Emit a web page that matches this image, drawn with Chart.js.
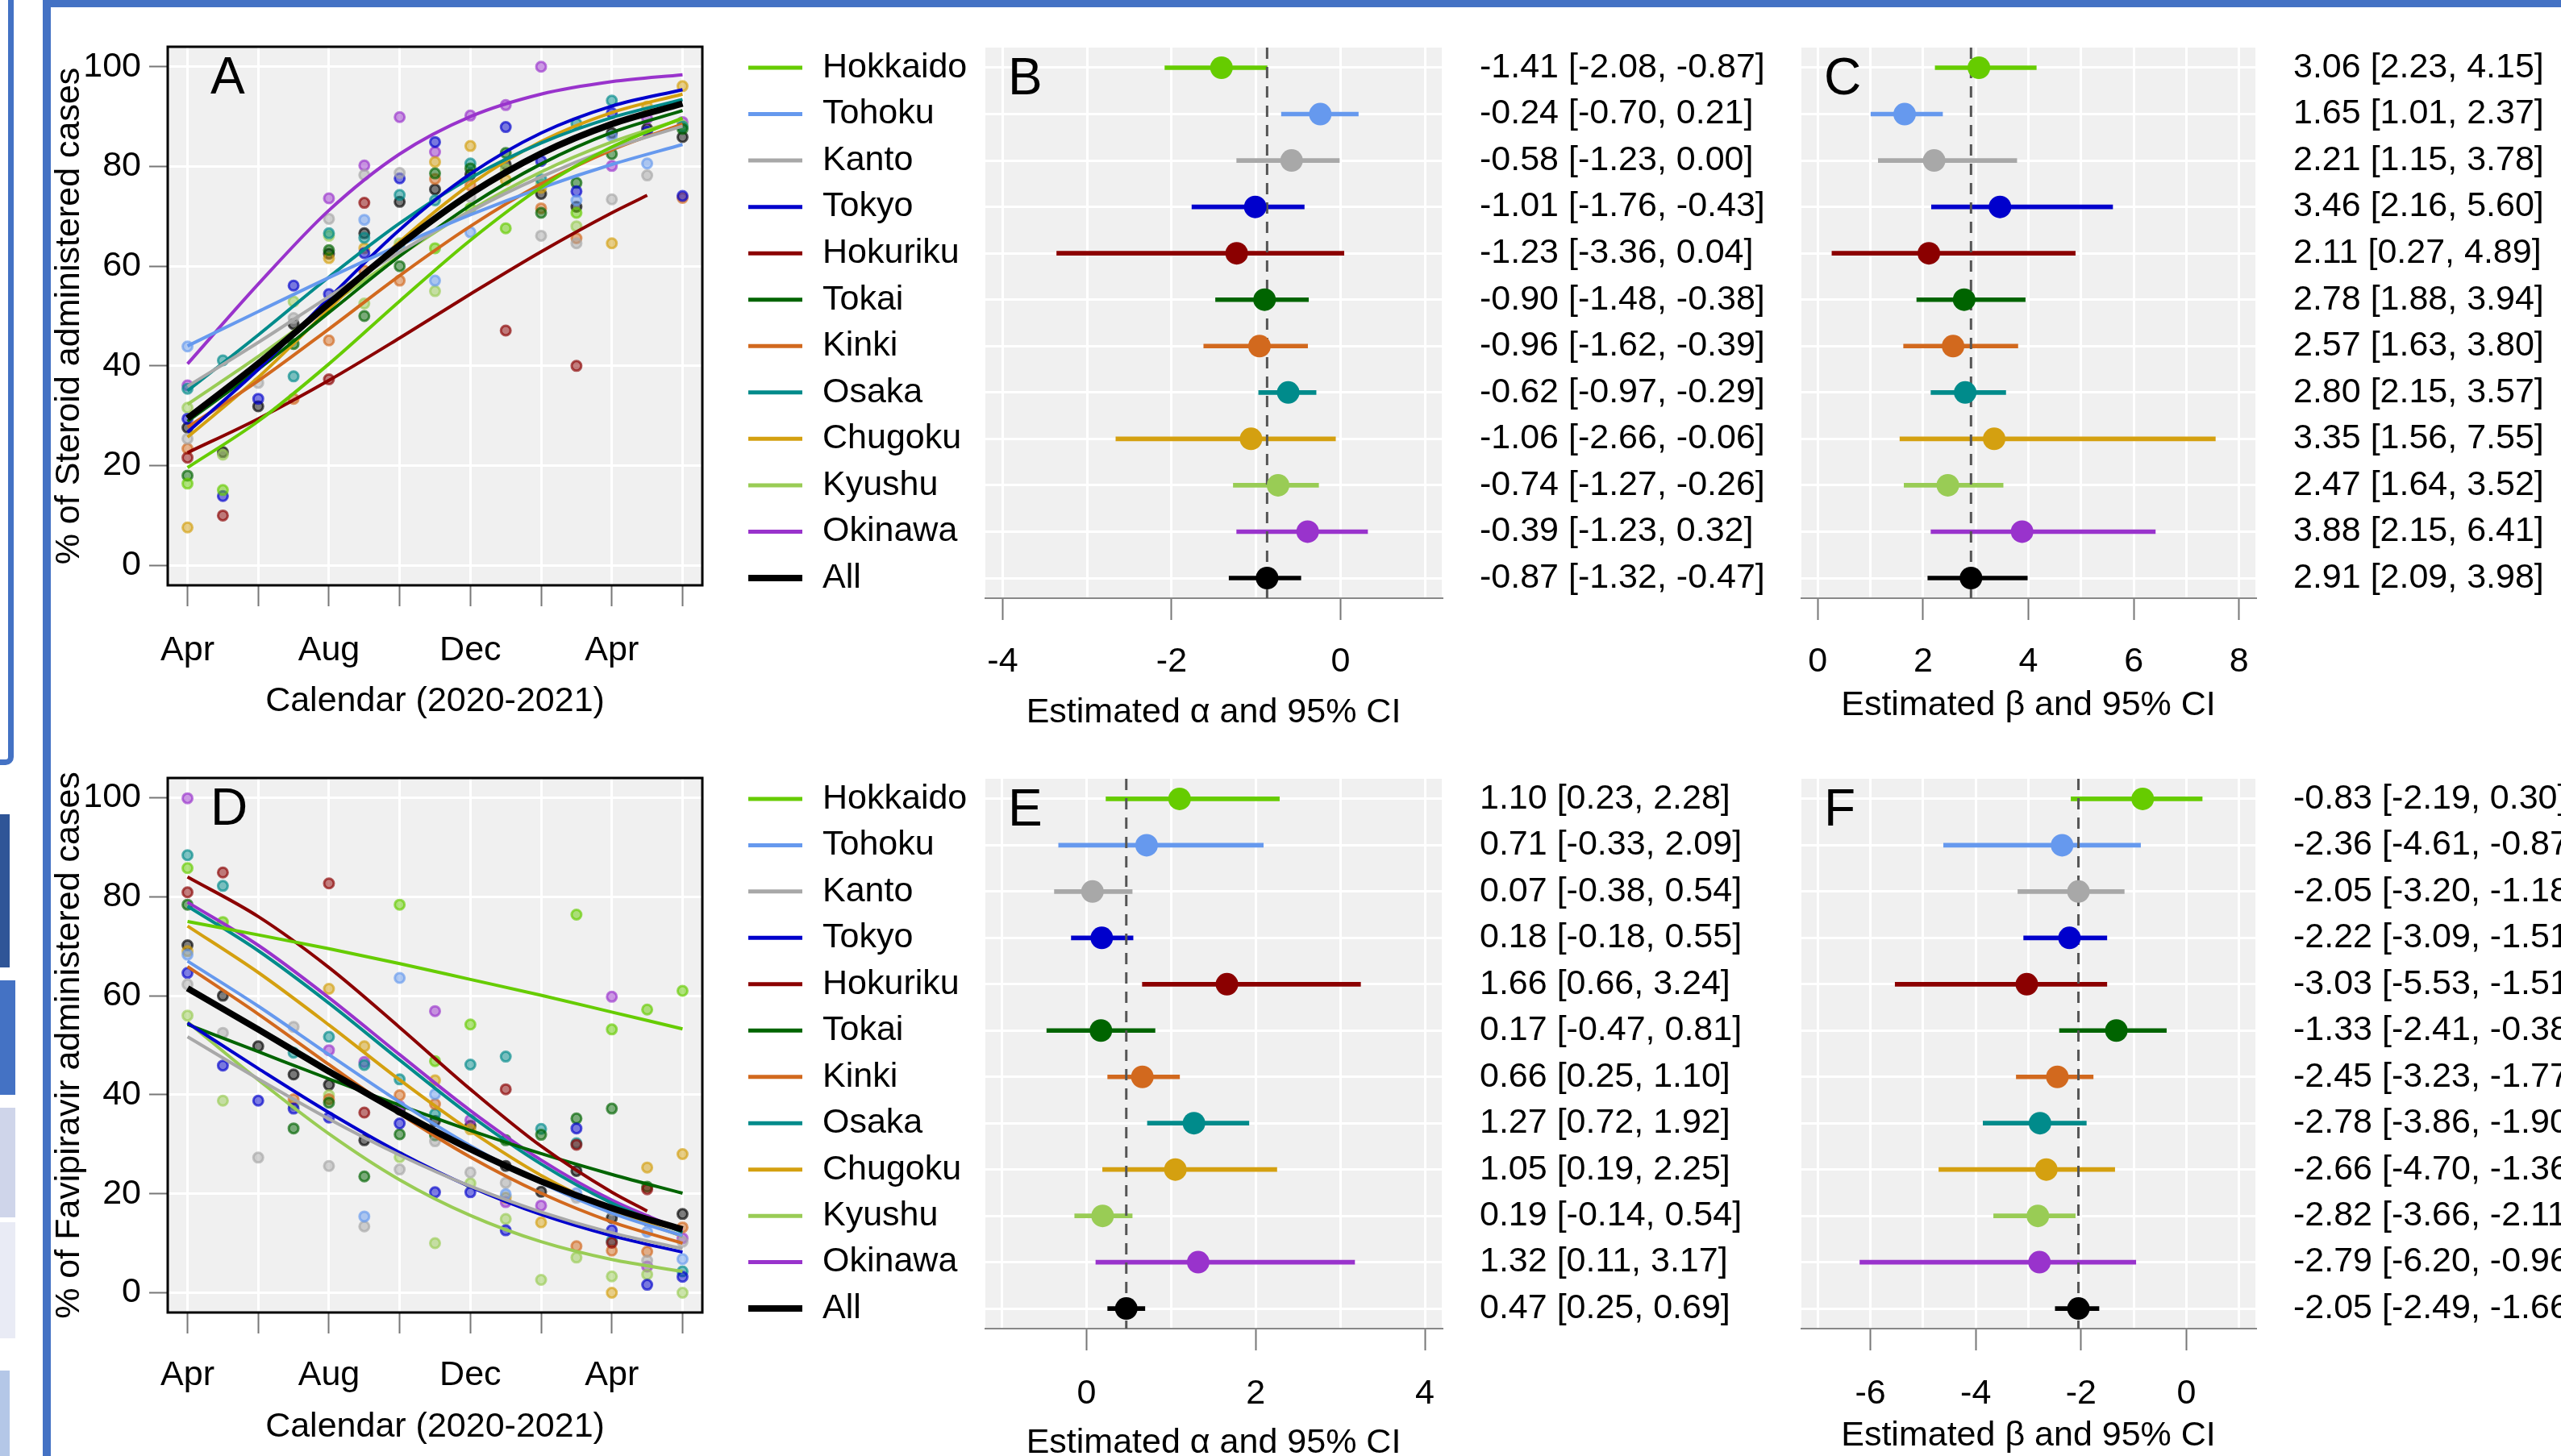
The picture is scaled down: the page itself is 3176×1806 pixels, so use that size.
<!DOCTYPE html>
<html>
<head>
<meta charset="utf-8">
<script src="https://cdn.jsdelivr.net/npm/chart.js@4.4.1/dist/chart.umd.min.js"></script>
<style>
  html, body { margin: 0; padding: 0; background: #fff; width: 3176px; height: 1806px; overflow: hidden; }
  #page { position: relative; width: 3176px; height: 1806px; overflow: hidden; }
  canvas { position: absolute; }
  .bar { position: absolute; }
</style>
</head>
<body>
<div id="page">
  <!-- slide frame remnants -->
  <div class="bar" style="left:53px;top:0;width:3123px;height:9px;background:#4472C4"></div>
  <div class="bar" style="left:53px;top:0;width:10px;height:1806px;background:#4472C4"></div>
  <div class="bar" style="left:-20px;top:-10px;width:23px;height:945px;border:7px solid #4472C4;border-radius:0 0 10px 0"></div>
  <div class="bar" style="left:0;top:1010px;width:12px;height:190px;background:#2F5597"></div>
  <div class="bar" style="left:0;top:1216px;width:19px;height:142px;background:#4472C4"></div>
  <div class="bar" style="left:0;top:1374px;width:19px;height:136px;background:#CFD5EA"></div>
  <div class="bar" style="left:0;top:1516px;width:19px;height:144px;background:#E9EBF5"></div>
  <div class="bar" style="left:0;top:1700px;width:12px;height:106px;background:#B4C7E7"></div>

  <canvas id="chartA" width="880" height="910" style="left:0;top:0"></canvas>
  <canvas id="chartB" width="1340" height="910" style="left:880px;top:0"></canvas>
  <canvas id="chartC" width="956" height="910" style="left:2220px;top:0"></canvas>
  <canvas id="chartD" width="880" height="920" style="left:0;top:910px"></canvas>
  <canvas id="chartE" width="1340" height="920" style="left:880px;top:910px"></canvas>
  <canvas id="chartF" width="956" height="920" style="left:2220px;top:910px"></canvas>
</div>
<script>
const regions = ['Hokkaido', 'Tohoku', 'Kanto', 'Tokyo', 'Hokuriku', 'Tokai', 'Kinki', 'Osaka', 'Chugoku', 'Kyushu', 'Okinawa', 'All'];
const regionColors = ['#66CC00', '#6699EE', '#A8A8A8', '#0000CC', '#8B0000', '#006400', '#D2691E', '#008B8B', '#D4A010', '#99CC55', '#9933CC', '#000000'];

// months since Apr 2020
const months = [0, 1, 2, 3, 4, 5, 6, 7, 8, 9, 10, 11, 12, 13, 14];
const monthTicks = [0, 2, 4, 6, 8, 10, 12, 14];
const monthLabels = ['Apr', '', 'Aug', '', 'Dec', '', 'Apr', ''];
const pctTicks = [0, 20, 40, 60, 80, 100];
const fitMonths = [0, 2, 4, 6, 8, 10, 12, 14];
const fitMonthsHokuriku = [0, 2, 4, 6, 8, 10, 12, 13];

// fitted curves, panel A (steroid)
const steroidFit = [
  [19.6, 28.9, 40.4, 53.0, 65.2, 75.8, 83.9, 89.7],
  [44.0, 50.9, 57.7, 64.2, 70.3, 75.7, 80.4, 84.4],
  [35.9, 44.7, 53.9, 62.8, 71.0, 77.9, 83.6, 88.1],
  [26.7, 39.3, 53.6, 67.3, 78.5, 86.7, 92.1, 95.4],
  [22.6, 29.4, 37.1, 45.6, 54.4, 62.9, 70.7, 74.2],
  [28.9, 39.3, 50.7, 62.0, 72.2, 80.5, 86.8, 91.2],
  [27.7, 37.0, 47.4, 58.1, 68.0, 76.5, 83.3, 88.5],
  [35.0, 46.2, 57.8, 68.6, 77.7, 84.7, 89.8, 93.4],
  [25.7, 37.7, 51.4, 64.9, 76.4, 85.0, 90.8, 94.5],
  [32.3, 41.9, 52.1, 62.1, 71.2, 78.9, 84.9, 89.5],
  [40.4, 56.4, 71.2, 82.5, 90.0, 94.5, 97.0, 98.4],
  [29.5, 40.5, 52.5, 64.2, 74.5, 82.6, 88.5, 92.6]
];
// observed monthly shares, panel A
const steroidObs = [
  [16.4, 15.1, null, null, null, null, null, 63.6, 71.6, 67.6, null, 70.7, null, null, null],
  [43.9, null, null, null, null, 69.3, 63.7, 57.1, 66.8, null, null, 73.2, 86.1, 80.6, null],
  [25.4, null, 36.6, 49.6, 69.5, 78.3, 78.7, null, 73.9, null, 66.1, 64.6, 73.4, 78.2, null],
  [29.4, 13.9, 33.4, 56.1, 54.4, 62.6, 77.6, 84.9, null, 87.9, 81.1, 75.0, 90.7, 87.0, 74.1],
  [21.6, 10.0, null, null, 37.3, 72.7, null, null, null, 47.1, null, 40.0, null, null, null],
  [18.0, null, null, 44.4, 63.2, 50.0, 60.0, 78.6, 79.6, 82.7, 70.7, 76.7, 82.5, null, 87.5],
  [23.4, null, null, 33.4, 45.1, 59.1, 57.1, 77.5, 76.2, null, 71.6, 65.6, null, null, 73.7],
  [35.4, 41.1, null, 37.9, 66.6, 65.7, 74.3, 73.2, 80.6, null, 77.4, 88.6, 93.2, null, 88.0],
  [7.6, null, null, null, 61.6, 63.6, null, 80.9, 84.1, 77.3, 75.7, null, 64.6, 92.0, 96.1],
  [31.6, 22.2, null, 52.9, 66.1, 52.5, 64.6, 55.0, null, 79.4, 76.4, 68.0, null, null, 88.2],
  [36.1, null, null, null, 73.6, 80.2, 89.9, 82.9, 90.2, 92.3, 100.0, null, 80.1, 89.6, 88.9],
  [27.6, 22.7, 31.9, 48.4, 62.5, 66.6, 72.9, 75.4, 78.4, 80.4, 74.5, 71.9, 86.7, 87.6, 85.9]
];

// fitted curves, panel D (favipiravir)
const faviFit = [
  [75.0, 72.3, 69.5, 66.5, 63.3, 60.1, 56.7, 53.3],
  [67.0, 57.9, 48.1, 38.5, 29.7, 22.2, 16.1, 11.5],
  [51.7, 43.2, 35.1, 27.8, 21.5, 16.3, 12.1, 8.9],
  [54.5, 45.3, 36.4, 28.3, 21.4, 15.8, 11.5, 8.2],
  [84.0, 76.0, 65.7, 53.6, 41.1, 29.6, 20.3, 16.5],
  [54.2, 48.7, 43.2, 37.9, 32.8, 28.1, 23.9, 20.1],
  [65.9, 56.3, 46.1, 36.2, 27.4, 20.1, 14.3, 10.0],
  [78.1, 69.1, 58.5, 47.0, 35.8, 26.0, 18.1, 12.2],
  [74.1, 64.7, 54.1, 43.0, 32.7, 23.7, 16.7, 11.4],
  [54.7, 43.0, 32.1, 22.8, 15.6, 10.3, 6.7, 4.3],
  [78.9, 70.2, 59.6, 48.1, 36.8, 26.8, 18.7, 12.6],
  [61.5, 53.2, 44.7, 36.5, 29.0, 22.5, 17.1, 12.8]
];
// observed monthly shares, panel D
const faviObs = [
  [85.8, 74.9, null, null, null, null, 78.4, 46.8, 54.2, null, null, 76.4, 53.2, 57.2, 61.0],
  [68.3, null, null, null, null, 15.4, 63.6, 40.1, null, 19.9, null, 20.1, null, 12.3, 6.8],
  [62.3, 52.5, 27.3, 53.7, 25.6, 13.4, 24.9, 30.6, 24.3, 22.2, null, 19.2, 16.7, 6.5, 10.3],
  [64.6, 45.9, 38.8, 37.2, 35.4, null, 34.2, 20.3, 20.3, 12.6, null, 33.2, 12.6, 1.6, 3.2],
  [80.9, 84.9, null, null, 82.7, 36.4, null, null, null, 41.1, null, 29.9, 10.1, 20.9, null],
  [78.4, null, null, 33.2, 38.4, 23.5, 32.0, 31.8, null, 30.8, 31.9, 35.2, 37.2, 21.4, null],
  [null, null, null, 39.1, 39.1, null, 39.9, 38.1, null, null, null, 9.4, 8.5, 8.3, 13.2],
  [88.4, 82.2, null, 48.5, 51.7, 46.0, 43.1, 36.1, 46.1, 47.7, 33.1, 30.2, 10.5, null, 4.3],
  [69.0, null, null, null, 61.4, 49.8, null, 42.9, 33.0, 19.2, 14.2, null, 0.0, 25.3, 28.0],
  [56.0, 38.8, null, 38.0, 39.9, null, 27.4, 10.0, 22.1, 14.9, 2.6, 7.1, 3.3, 3.7, 0.0],
  [99.9, null, null, null, 49.0, 46.6, 37.7, 56.9, 34.9, 18.3, 17.6, null, 59.8, 5.3, 11.0],
  [70.2, 60.0, 49.8, 44.1, 42.0, 30.8, 37.0, 34.7, 33.7, 25.6, 20.4, 24.6, 15.1, 14.6, 15.9]
];

// estimates and 95% CI
const alphaSteroid   = [-1.41, -0.24, -0.58, -1.01, -1.23, -0.90, -0.96, -0.62, -1.06, -0.74, -0.39, -0.87];
const alphaSteroidLo = [-2.08, -0.70, -1.23, -1.76, -3.36, -1.48, -1.62, -0.97, -2.66, -1.27, -1.23, -1.32];
const alphaSteroidHi = [-0.87, 0.21, 0.00, -0.43, 0.04, -0.38, -0.39, -0.29, -0.06, -0.26, 0.32, -0.47];
const betaSteroid    = [3.06, 1.65, 2.21, 3.46, 2.11, 2.78, 2.57, 2.80, 3.35, 2.47, 3.88, 2.91];
const betaSteroidLo  = [2.23, 1.01, 1.15, 2.16, 0.27, 1.88, 1.63, 2.15, 1.56, 1.64, 2.15, 2.09];
const betaSteroidHi  = [4.15, 2.37, 3.78, 5.60, 4.89, 3.94, 3.80, 3.57, 7.55, 3.52, 6.41, 3.98];
const alphaFavi      = [1.10, 0.71, 0.07, 0.18, 1.66, 0.17, 0.66, 1.27, 1.05, 0.19, 1.32, 0.47];
const alphaFaviLo    = [0.23, -0.33, -0.38, -0.18, 0.66, -0.47, 0.25, 0.72, 0.19, -0.14, 0.11, 0.25];
const alphaFaviHi    = [2.28, 2.09, 0.54, 0.55, 3.24, 0.81, 1.10, 1.92, 2.25, 0.54, 3.17, 0.69];
const betaFavi       = [-0.83, -2.36, -2.05, -2.22, -3.03, -1.33, -2.45, -2.78, -2.66, -2.82, -2.79, -2.05];
const betaFaviLo     = [-2.19, -4.61, -3.20, -3.09, -5.53, -2.41, -3.23, -3.86, -4.70, -3.66, -6.20, -2.49];
const betaFaviHi     = [0.30, -0.87, -1.18, -1.51, -1.51, -0.38, -1.77, -1.90, -1.36, -2.11, -0.96, -1.66];

const rows = [1, 2, 3, 4, 5, 6, 7, 8, 9, 10, 11, 12];
const rowMin = 0.566, rowMax = 12.434;
const alphaTopTicks = [-4, -3, -2, -1, 0, 1];
const betaTopTicks = [0, 1, 2, 3, 4, 5, 6, 7, 8];
const alphaBottomTicks = [-1, 0, 1, 2, 3, 4];
const betaBottomTicks = [-7, -6, -5, -4, -3, -2, -1, 0, 1];

Chart.defaults.font.family = "'Liberation Sans', Arial, Helvetica, sans-serif";
Chart.defaults.font.size = 43;
Chart.defaults.color = '#000';

function withAlpha(hex, a) {
  const n = parseInt(hex.slice(1), 16);
  return `rgba(${(n >> 16) & 255},${(n >> 8) & 255},${n & 255},${a})`;
}

function fixSize(w, h) {
  return s => {
    if (w != null) s.width = w;
    if (h != null) s.height = h;
    s.paddingTop = 0; s.paddingBottom = 0; s.paddingLeft = 0; s.paddingRight = 0;
  };
}

const ciText = (e, l, h) => `${e.toFixed(2)} [${l.toFixed(2)}, ${h.toFixed(2)}]`;

Chart.register({
  id: 'panelBackground',
  beforeDraw(chart, args, opts) {
    if (!opts.color) return;
    const {ctx, chartArea: a} = chart;
    ctx.save();
    ctx.fillStyle = opts.color;
    ctx.fillRect(a.left, a.top, a.width, a.height);
    ctx.restore();
  }
});

Chart.register({
  id: 'panelFrame',
  afterDraw(chart, args, opts) {
    if (!opts.show) return;
    const {ctx, chartArea: a} = chart;
    ctx.save();
    ctx.strokeStyle = '#000';
    ctx.lineWidth = 3;
    ctx.strokeRect(a.left, a.top, a.width, a.height);
    ctx.restore();
  }
});

Chart.register({
  id: 'panelLetter',
  afterDraw(chart, args, opts) {
    if (!opts.text) return;
    const {ctx, chartArea: a} = chart;
    ctx.save();
    ctx.font = "64px 'Liberation Sans', Arial, sans-serif";
    ctx.fillStyle = '#000';
    ctx.textAlign = 'left';
    ctx.textBaseline = 'alphabetic';
    ctx.fillText(opts.text, a.left + opts.dx, a.top + 58);
    ctx.restore();
  }
});

// line samples next to the region names
Chart.register({
  id: 'legendLines',
  afterDraw(chart, args, opts) {
    if (!opts.show) return;
    const {ctx} = chart;
    const ys = chart.scales.y;
    ctx.save();
    regions.forEach((r, i) => {
      const y = ys.getPixelForValue(rows[i]);
      ctx.strokeStyle = regionColors[i];
      ctx.lineWidth = i === 11 ? 8 : 5;
      ctx.beginPath();
      ctx.moveTo(opts.x1, y);
      ctx.lineTo(opts.x2, y);
      ctx.stroke();
    });
    ctx.restore();
  }
});

function makeTrendChart(id, fit, obs, yTitle, letter, o) {
  const datasets = [];
  regions.forEach((r, i) => {
    const fm = i === 4 ? fitMonthsHokuriku : fitMonths;
    datasets.push({
      type: 'line',
      label: r,
      data: fm.map((m, j) => ({x: m, y: fit[i][j]})),
      borderColor: regionColors[i],
      borderWidth: i === 11 ? 8 : 4,
      pointRadius: 0,
      cubicInterpolationMode: 'monotone',
      fill: false,
      order: i === 11 ? 0 : 1
    });
  });
  regions.forEach((r, i) => {
    datasets.push({
      type: 'scatter',
      label: r + ' observed',
      data: months.map((m, j) => obs[i][j] == null ? null : {x: m, y: obs[i][j]}).filter(p => p),
      pointRadius: 6,
      pointBackgroundColor: withAlpha(regionColors[i], 0.5),
      pointBorderColor: withAlpha(regionColors[i], 0.65),
      pointBorderWidth: 3,
      order: 2
    });
  });

  return new Chart(document.getElementById(id), {
    type: 'scatter',
    data: {datasets: datasets},
    options: {
      responsive: false,
      animation: false,
      events: [],
      layout: {padding: {left: 0, top: o.padTop, right: 3, bottom: 0}},
      plugins: {
        legend: {display: false},
        tooltip: {enabled: false},
        panelBackground: {color: '#F0F0F0'},
        panelFrame: {show: true},
        panelLetter: {text: letter, dx: 53}
      },
      scales: {
        x: {
          type: 'linear', min: -0.56, max: 14.56,
          afterBuildTicks: s => { s.ticks = monthTicks.map(v => ({value: v})); },
          ticks: {callback: (v, i) => monthLabels[i], padding: o.tickPad, maxRotation: 0, autoSkip: false},
          grid: {color: '#fff', lineWidth: 3, tickLength: 26, tickWidth: 2, tickColor: '#777'},
          border: {display: false},
          title: {display: true, text: 'Calendar (2020-2021)', padding: {top: 0, bottom: o.titleBottom}},
          afterFit: fixSize(null, o.xHeight)
        },
        y: {
          type: 'linear', min: -4, max: 104,
          afterBuildTicks: s => { s.ticks = pctTicks.map(v => ({value: v})); },
          ticks: {callback: v => String(v), padding: 10, autoSkip: false},
          grid: {color: '#fff', lineWidth: 3, tickLength: 23, tickWidth: 2, tickColor: '#777'},
          border: {display: false},
          title: {display: true, text: yTitle, padding: {top: 60, bottom: 0}},
          afterFit: fixSize(208, null)
        }
      }
    }
  });
}

function makeForestChart(id, est, lo, hi, xMin, xMax, xTicks, xTitle, letter, o) {
  const ciLabels = est.map((e, i) => ciText(e, lo[i], hi[i]));
  return new Chart(document.getElementById(id), {
    type: 'scatter',
    data: {
      datasets: [
        {
          type: 'bar',
          indexAxis: 'y',
          xAxisID: 'x', yAxisID: 'y',
          data: regions.map((r, i) => ({x: [lo[i], hi[i]], y: rows[i]})),
          backgroundColor: regionColors,
          barThickness: 5,
          borderWidth: 0,
          order: 3
        },
        {
          type: 'line',
          xAxisID: 'x', yAxisID: 'y',
          data: [{x: est[11], y: rowMin}, {x: est[11], y: rowMax}],
          borderColor: '#555',
          borderWidth: 3,
          borderDash: [14, 10],
          pointRadius: 0,
          order: 2
        },
        {
          type: 'scatter',
          xAxisID: 'x', yAxisID: 'y',
          data: regions.map((r, i) => ({x: est[i], y: rows[i]})),
          pointRadius: 14,
          pointBackgroundColor: regionColors,
          pointBorderWidth: 0,
          order: 1
        }
      ]
    },
    options: {
      responsive: false,
      animation: false,
      events: [],
      layout: {padding: {left: o.padLeft, top: o.padTop, right: 0, bottom: 0}},
      plugins: {
        legend: {display: false},
        tooltip: {enabled: false},
        panelBackground: {color: '#F0F0F0'},
        panelLetter: {text: letter, dx: 28},
        legendLines: {show: o.names, x1: 48, x2: 115}
      },
      scales: {
        x: {
          type: 'linear', min: xMin, max: xMax, beginAtZero: false,
          afterBuildTicks: s => { s.ticks = xTicks.map(v => ({value: v})); },
          ticks: {callback: v => (v % 2 === 0 ? String(v) : ''), padding: o.tickPad, maxRotation: 0, autoSkip: false},
          grid: {
            color: '#fff', lineWidth: 3, tickLength: 27, tickWidth: 2,
            tickColor: c => (c.tick && c.tick.value % 2 === 0) ? '#777' : 'rgba(0,0,0,0)'
          },
          border: {display: true, color: '#888', width: 2},
          title: {display: true, text: xTitle, padding: {top: 0, bottom: o.titleBottom}},
          afterFit: fixSize(null, o.xHeight)
        },
        y: {
          type: 'linear', reverse: true, min: rowMin, max: rowMax, offset: false,
          afterBuildTicks: s => { s.ticks = rows.map(v => ({value: v})); },
          ticks: {display: o.names, callback: v => regions[v - 1], crossAlign: 'far', padding: 0, autoSkip: false},
          grid: {color: '#fff', lineWidth: 3, drawTicks: false, offset: false},
          border: {display: false},
          afterFit: fixSize(o.yWidth, null)
        },
        y2: {
          type: 'linear', position: 'right', reverse: true, min: rowMin, max: rowMax, offset: false,
          afterBuildTicks: s => { s.ticks = rows.map(v => ({value: v})); },
          ticks: {callback: v => ciLabels[v - 1], padding: 0, autoSkip: false},
          grid: {drawOnChartArea: false, drawTicks: true, tickLength: 47, tickColor: 'rgba(0,0,0,0)', offset: false},
          border: {display: false},
          afterFit: fixSize(o.y2Width, null)
        }
      }
    }
  });
}

makeTrendChart('chartA', steroidFit, steroidObs, '% of Steroid administered cases', 'A',
  {padTop: 58, xHeight: 184, tickPad: 29, titleBottom: 14});
makeTrendChart('chartD', faviFit, faviObs, '% of Favipiravir administered cases', 'D',
  {padTop: 55, xHeight: 202, tickPad: 26, titleBottom: 34});

makeForestChart('chartB', alphaSteroid, alphaSteroidLo, alphaSteroidHi, -4.205, 1.198, alphaTopTicks,
  'Estimated \u03b1 and 95% CI', 'B',
  {names: true, padLeft: 140, padTop: 59, yWidth: 202, y2Width: 432, xHeight: 168, tickPad: 26, titleBottom: 0});
makeForestChart('chartC', betaSteroid, betaSteroidLo, betaSteroidHi, -0.31, 8.31, betaTopTicks,
  'Estimated \u03b2 and 95% CI', 'C',
  {names: false, padLeft: 12, padTop: 59, yWidth: 0, y2Width: 379, xHeight: 168, tickPad: 26, titleBottom: 9});
makeForestChart('chartE', alphaFavi, alphaFaviLo, alphaFaviHi, -1.196, 4.2, alphaBottomTicks,
  'Estimated \u03b1 and 95% CI', 'E',
  {names: true, padLeft: 140, padTop: 56, yWidth: 202, y2Width: 432, xHeight: 182, tickPad: 28, titleBottom: 14});
makeForestChart('chartF', betaFavi, betaFaviLo, betaFaviHi, -7.31, 1.31, betaBottomTicks,
  'Estimated \u03b2 and 95% CI', 'F',
  {names: false, padLeft: 12, padTop: 56, yWidth: 0, y2Width: 379, xHeight: 182, tickPad: 28, titleBottom: 23});
</script>
</body>
</html>
